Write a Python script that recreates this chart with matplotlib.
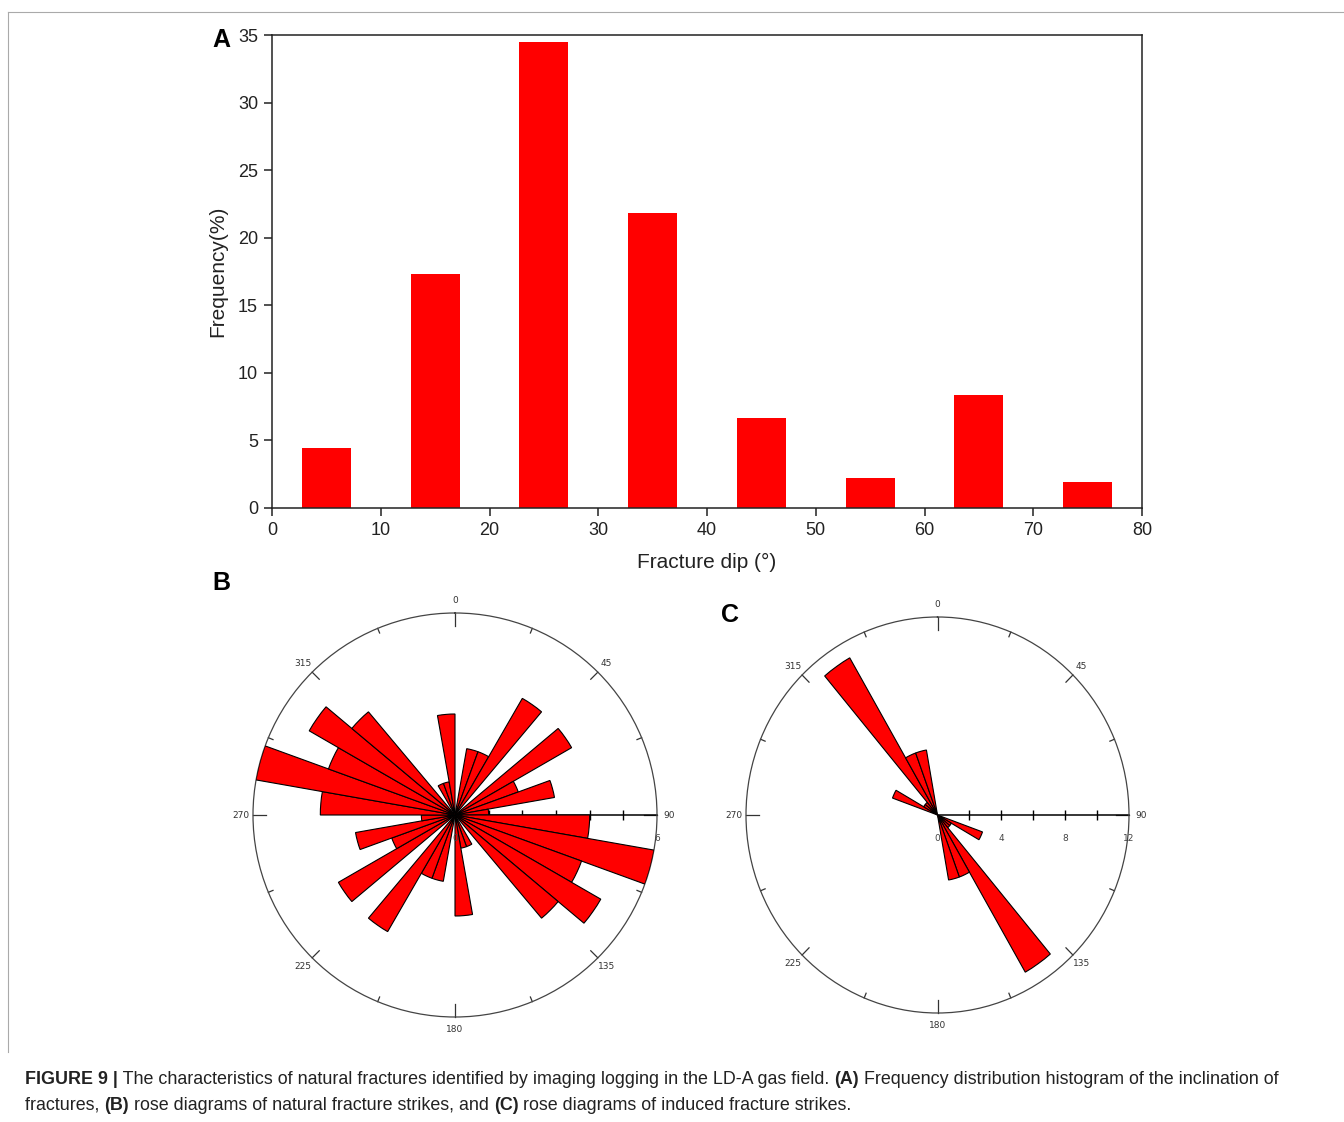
import numpy as np
import matplotlib
matplotlib.use("Agg")
import matplotlib.pyplot as plt
from matplotlib.lines import Line2D

plt.rcParams['font.family'] = ['Liberation Sans', 'DejaVu Sans']

# (A) fracture dip histogram
dip_centers = [5, 15, 25, 35, 45, 55, 65, 75]
dip_freq = [4.45, 17.3, 34.5, 21.8, 6.65, 2.2, 8.35, 1.9]

# (B)/(C) strike roses, 10 degree bins starting at 0
strike_bins = [0, 10, 20, 30, 40, 50, 60, 70, 80, 90, 100, 110, 120, 130, 140, 150, 160, 170,
               180, 190, 200, 210, 220, 230, 240, 250, 260, 270, 280, 290, 300, 310, 320, 330, 340, 350]
natural_strike = [0, 2, 2, 4, 0, 4, 2, 3, 1, 4, 6, 4, 5, 4, 0, 1, 1, 3,
                  0, 2, 2, 4, 0, 4, 2, 3, 1, 4, 6, 4, 5, 4, 0, 1, 1, 3]
induced_strike = [0, 0, 0, 0, 0, 0, 0, 0, 0, 0, 0, 3, 1, 1, 11, 4, 4, 0,
                  0, 0, 0, 0, 0, 0, 0, 0, 0, 0, 0, 3, 1, 1, 11, 4, 4, 0]
compass_labels = ['0', '45', '90', '135', '180', '225', '270', '315']

W, H = 1344, 1122
fig = plt.figure(figsize=(W / 100, H / 100), dpi=100)


def box(l, t, r, b):
    return [l / W, 1 - b / H, (r - l) / W, (b - t) / H]


# ---- histogram ----
ax = fig.add_axes(box(272, 35, 1142, 508))
ax.bar(dip_centers, dip_freq, width=4.5, color='#ff0000', edgecolor='none')
ax.set_xlim(0, 80)
ax.set_ylim(0, 35)
ax.set_xticks(range(0, 81, 10))
ax.set_yticks(range(0, 36, 5))
ax.tick_params(direction='out', length=6, width=1.1, labelsize=13, pad=4, colors='#222222')
for s in ax.spines.values():
    s.set_linewidth(1.1)
    s.set_color('#222222')
ax.set_xlabel('Fracture dip (°)', fontsize=15, labelpad=10, color='#222222')
ax.set_ylabel('Frequency(%)', fontsize=15, labelpad=8, color='#222222')


def rose(rect, counts, rmax, rpx, rticks, rlabels, aspect_auto=False):
    pax = fig.add_axes(rect, projection='polar')
    if aspect_auto:
        pax.set_aspect('auto')
    pax.set_theta_zero_location('N')
    pax.set_theta_direction(-1)
    theta = np.deg2rad(np.array(strike_bins) + 5)
    pax.bar(theta, counts, width=np.deg2rad(10), bottom=0, color='#ff0000',
            edgecolor='black', linewidth=0.8, zorder=3)
    pax.set_ylim(0, rmax)
    pax.set_yticks([])
    pax.grid(False)
    pax.set_xticks(np.deg2rad(np.arange(0, 360, 45)))
    pax.set_xticklabels(compass_labels, fontsize=6.5, family='DejaVu Sans', color='#333333')
    pax.tick_params(axis='x', which='major', length=0, pad=2)
    pax.spines['polar'].set_linewidth(0.9)
    pax.spines['polar'].set_color('#444444')
    # compass tick marks on the rim
    for ang in np.arange(0, 360, 22.5):
        if ang % 90 == 0:
            px = 13
        elif ang % 45 == 0:
            px = 10
        else:
            px = 5
        pax.plot([np.deg2rad(ang)] * 2, [rmax * (1 - px / rpx), rmax], color='#333333',
                 lw=0.9, zorder=2, clip_on=False)
    # radial scale along 90 degrees
    pax.plot([np.pi / 2, np.pi / 2], [0, rmax], color='black', lw=1.1, zorder=2, clip_on=False)
    pax.plot(np.full(len(rticks), np.pi / 2), rticks, ls='none', marker='|', ms=7,
             mew=1, color='black', zorder=2, clip_on=False)
    for r, lab in rlabels:
        pax.annotate(lab, xy=(np.pi / 2, r), xytext=(0, -17), textcoords='offset points',
                     ha='center', va='center', fontsize=6.5, family='DejaVu Sans',
                     color='#444444', zorder=4, annotation_clip=False)
    return pax


rose(box(253, 613, 657, 1017), natural_strike, 6, 202, [1, 2, 3, 4, 5],
     [(0, '0'), (6, '6')])
rose(box(746, 617, 1129, 1013), induced_strike, 12, 195, [2, 4, 6, 8, 10],
     [(0, '0'), (4, '4'), (8, '8'), (12, '12')], aspect_auto=True)

# panel letters
fig.text(212 / W, 1 - 40 / H, 'A', fontsize=18, fontweight='bold', va='center')
fig.text(212 / W, 1 - 583 / H, 'B', fontsize=18, fontweight='bold', va='center')
fig.text(721 / W, 1 - 615 / H, 'C', fontsize=18, fontweight='bold', va='center')

# page frame
fig.add_artist(Line2D([8 / W, 1], [1 - 12 / H, 1 - 12 / H], color='#aaaaaa', lw=0.8))
fig.add_artist(Line2D([8 / W, 8 / W], [1 - 12 / H, 1 - 1052 / H], color='#aaaaaa', lw=0.8))

# caption with mixed bold runs
cap_family = ['Liberation Sans Narrow', 'Liberation Sans', 'DejaVu Sans']
cap_size = 12.9
renderer = fig.canvas.get_renderer()


def rich_line(x, y, parts):
    for s, bold in parts:
        t = fig.text(x / W, 1 - y / H, s, fontsize=cap_size, family=cap_family,
                     fontweight='bold' if bold else 'normal', va='center', color='#222222')
        x += t.get_window_extent(renderer).width


rich_line(25, 1080, [('FIGURE 9 |', True),
                     (' The characteristics of natural fractures identified by imaging logging in the LD-A gas field. ', False),
                     ('(A)', True),
                     (' Frequency distribution histogram of the inclination of', False)])
rich_line(25, 1105, [('fractures, ', False), ('(B)', True),
                     (' rose diagrams of natural fracture strikes, and ', False), ('(C)', True),
                     (' rose diagrams of induced fracture strikes.', False)])

fig.savefig('out.png', dpi=100)
